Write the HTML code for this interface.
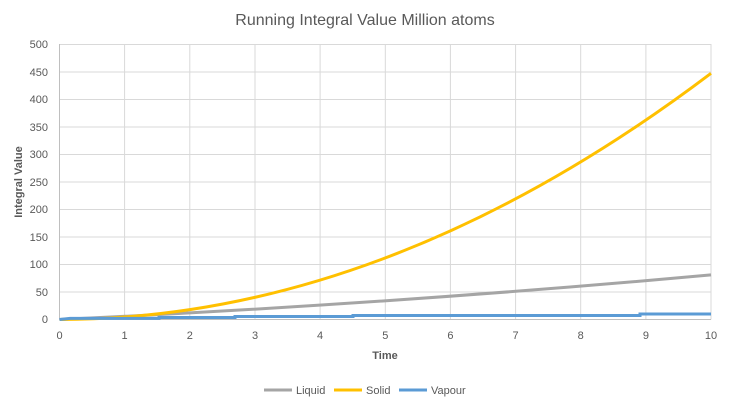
<!DOCTYPE html><html><head><style>body{margin:0;background:#fff}svg{font-family:"Liberation Sans",sans-serif}</style></head><body>
<svg width="731" height="407" xmlns="http://www.w3.org/2000/svg">
<rect width="731" height="407" fill="#fff"/>
<text x="365" y="25" text-anchor="middle" font-size="16" fill="#595959">Running Integral Value Million atoms</text>
<g stroke="#d9d9d9" stroke-width="1">
<line x1="59.5" y1="44.5" x2="711" y2="44.5"/><line x1="59.5" y1="72" x2="711" y2="72"/><line x1="59.5" y1="99.5" x2="711" y2="99.5"/><line x1="59.5" y1="127" x2="711" y2="127"/><line x1="59.5" y1="154.5" x2="711" y2="154.5"/><line x1="59.5" y1="182" x2="711" y2="182"/><line x1="59.5" y1="209.5" x2="711" y2="209.5"/><line x1="59.5" y1="237" x2="711" y2="237"/><line x1="59.5" y1="264.5" x2="711" y2="264.5"/><line x1="59.5" y1="292" x2="711" y2="292"/>
<line x1="124.6" y1="44" x2="124.6" y2="319.5"/><line x1="189.8" y1="44" x2="189.8" y2="319.5"/><line x1="255" y1="44" x2="255" y2="319.5"/><line x1="320.1" y1="44" x2="320.1" y2="319.5"/><line x1="385.3" y1="44" x2="385.3" y2="319.5"/><line x1="450.4" y1="44" x2="450.4" y2="319.5"/><line x1="515.6" y1="44" x2="515.6" y2="319.5"/><line x1="580.7" y1="44" x2="580.7" y2="319.5"/><line x1="645.9" y1="44" x2="645.9" y2="319.5"/><line x1="711" y1="44" x2="711" y2="319.5"/>
</g>
<line x1="59.5" y1="44" x2="59.5" y2="320" stroke="#bfbfbf"/>
<line x1="59" y1="319.5" x2="711" y2="319.5" stroke="#bfbfbf"/>
<g font-size="11" fill="#595959" text-anchor="end">
<text x="48" y="48">500</text><text x="48" y="76">450</text><text x="48" y="103">400</text><text x="48" y="131">350</text><text x="48" y="158">300</text><text x="48" y="186">250</text><text x="48" y="213">200</text><text x="48" y="241">150</text><text x="48" y="268">100</text><text x="48" y="296">50</text><text x="48" y="323">0</text>
</g>
<g font-size="11" fill="#595959" text-anchor="middle">
<text x="59.5" y="339">0</text><text x="124.6" y="339">1</text><text x="189.8" y="339">2</text><text x="255" y="339">3</text><text x="320.1" y="339">4</text><text x="385.3" y="339">5</text><text x="450.4" y="339">6</text><text x="515.6" y="339">7</text><text x="580.7" y="339">8</text><text x="645.9" y="339">9</text><text x="711" y="339">10</text>
</g>
<text x="385" y="359" text-anchor="middle" font-size="11" font-weight="bold" fill="#595959">Time</text>
<text transform="translate(22,182) rotate(-90)" text-anchor="middle" font-size="11" font-weight="bold" fill="#595959">Integral Value</text>
<path fill="none" stroke="#a5a5a5" stroke-width="3" d="M59.5,319.5 Q385.3,304.4 711,274.9"/>
<path fill="none" stroke="#ffc000" stroke-width="3" d="M59.5,319.5 Q385.3,319.5 711,73.3"/>
<polyline fill="none" stroke="#5b9bd5" stroke-width="3" points="59.5,319.5 70,318.4 159,318.4 159,317.5 235,317.5 235,316.5 353,316.5 353,315.5 640,315.5 640,314 711,314"/>
<g font-size="11" fill="#595959">
<line x1="264" y1="390" x2="292" y2="390" stroke="#a5a5a5" stroke-width="3"/><text x="296" y="394">Liquid</text>
<line x1="334" y1="390" x2="362" y2="390" stroke="#ffc000" stroke-width="3"/><text x="366" y="394">Solid</text>
<line x1="399" y1="390" x2="427" y2="390" stroke="#5b9bd5" stroke-width="3"/><text x="431" y="394">Vapour</text>
</g>
</svg></body></html>
